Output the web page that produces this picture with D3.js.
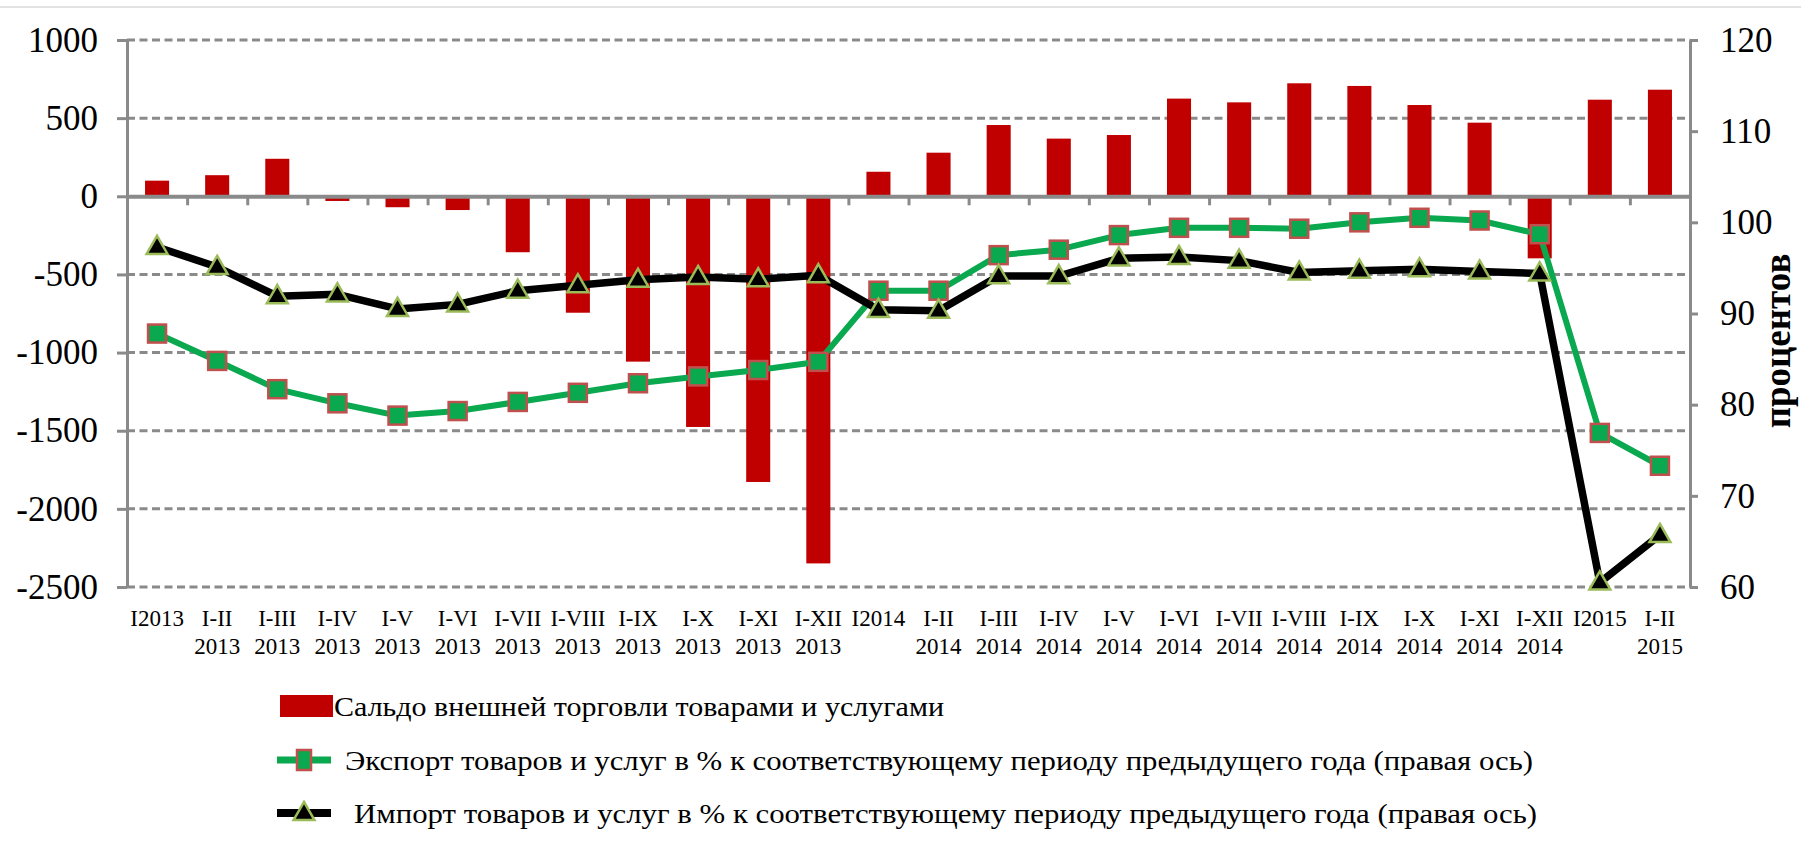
<!DOCTYPE html>
<html>
<head>
<meta charset="utf-8">
<script src="https://cdn.jsdelivr.net/npm/d3@7"></script>
<style>
  body { margin: 0; background: #fff; }
  svg { display: block; font-family: "Liberation Serif", "Times New Roman", serif; }
</style>
</head>
<body>
<svg id="chart" width="1801" height="849"></svg>
<script>
// periods (first row of x labels) and years (second row)
var periods = ["I2013", "I-II", "I-III", "I-IV", "I-V", "I-VI", "I-VII", "I-VIII", "I-IX", "I-X", "I-XI", "I-XII",
    "I2014", "I-II", "I-III", "I-IV", "I-V", "I-VI", "I-VII", "I-VIII", "I-IX", "I-X", "I-XI", "I-XII",
    "I2015", "I-II"];
var years = ["", "2013", "2013", "2013", "2013", "2013", "2013", "2013", "2013", "2013", "2013", "2013",
    "", "2014", "2014", "2014", "2014", "2014", "2014", "2014", "2014", "2014", "2014", "2014",
    "", "2015"];

// saldo of foreign trade (left axis)
var balance = [100, 135, 240, -30, -70, -88, -358, -745, -1058, -1476, -1828, -2349,
    157, 279, 456, 369, 392, 625, 601, 723, 706, 584, 471, -397,
    618, 682];
// export, % to same period of previous year (right axis)
var exportPct = [87.8, 84.8, 81.7, 80.15, 78.8, 79.3, 80.3, 81.3, 82.35, 83.1, 83.8, 84.7,
    92.5, 92.5, 96.4, 97.0, 98.6, 99.4, 99.4, 99.3, 100.0, 100.5, 100.2, 98.7,
    76.9, 73.3];
// import, % to same period of previous year (right axis)
var importPct = [97.3, 95.1, 91.9, 92.1, 90.5, 91.0, 92.5, 93.1, 93.7, 94.0, 93.75, 94.2,
    90.4, 90.3, 94.1, 94.1, 96.05, 96.2, 95.8, 94.5, 94.7, 94.85, 94.6, 94.4,
    60.5, 65.7];

var leftTicks = [-2500, -2000, -1500, -1000, -500, 0, 500, 1000];
var rightTicks = [60, 70, 80, 90, 100, 110, 120];
var legendNames = ["Сальдо внешней торговли товарами и услугами",
    "Экспорт товаров и услуг в % к соответствующему периоду предыдущего года (правая ось)",
    "Импорт товаров и услуг в % к соответствующему периоду предыдущего года (правая ось)"];
var axisTitle = "процентов";

var svg = d3.select("#chart");
// note: "top" is taken by window.top, so plot* names
var plotLeft = 127, plotRight = 1690, plotTop = 40, plotBottom = 587;
var gray = "#8a8a8a";
var plain = function (d) { return String(d); }; // "-2500", not "−2,500"

var idx = d3.range(periods.length);
var x = d3.scaleBand().domain(idx).range([plotLeft, plotRight]).paddingInner(0.6).paddingOuter(0.3);
var xEdge = d3.scaleLinear().domain([0, periods.length]).range([plotLeft, plotRight]);
var yL = d3.scaleLinear().domain([-2500, 1000]).range([plotBottom, plotTop]);
var yR = d3.scaleLinear().domain([60, 120]).range([plotBottom, plotTop]);
var cx = function (i) { return x(i) + x.bandwidth() / 2; };

// thin frame line at the very top
svg.append("line").attr("x1", 0).attr("x2", 1801).attr("y1", 7).attr("y2", 7)
    .style("stroke", "#e2e2e2").style("stroke-width", 2);

// dashed gridlines
svg.append("g").selectAll("line")
    .data(leftTicks.filter(function (d) { return d !== 0; }))
    .enter().append("line")
    .attr("x1", plotLeft).attr("x2", plotRight)
    .attr("y1", function (d) { return yL(d); }).attr("y2", function (d) { return yL(d); })
    .style("stroke", gray).style("stroke-width", 3).style("stroke-dasharray", "8,4.5");

// bars
svg.append("g").selectAll("rect")
    .data(idx).enter().append("rect")
    .attr("x", function (i) { return x(i); })
    .attr("width", x.bandwidth())
    .attr("y", function (i) { return yL(Math.max(0, balance[i])); })
    .attr("height", function (i) { return Math.abs(yL(balance[i]) - yL(0)); })
    .style("fill", "#c00000");

// x axis on zero line, ticks at band edges
var xAxis = svg.append("g").attr("transform", "translate(0," + yL(0) + ")")
    .call(d3.axisBottom(xEdge).tickValues(d3.range(1, periods.length)).tickFormat("").tickSize(9).tickSizeOuter(0));
xAxis.select(".domain").style("stroke", gray).style("stroke-width", 4);
xAxis.selectAll(".tick line").style("stroke", gray).style("stroke-width", 3);

// left axis
var axL = svg.append("g").attr("transform", "translate(" + plotLeft + ",0)")
    .call(d3.axisLeft(yL).tickValues(leftTicks).tickFormat(plain).tickSize(10).tickSizeOuter(0).tickPadding(19));
axL.select(".domain").style("stroke", gray).style("stroke-width", 3);
axL.selectAll(".tick line").style("stroke", gray).style("stroke-width", 3);
axL.selectAll(".tick text").style("font-size", "35px").style("fill", "#000")
    .style("font-family", "'Liberation Serif', 'Times New Roman', serif");

// right axis
var axR = svg.append("g").attr("transform", "translate(" + plotRight + ",0)")
    .call(d3.axisRight(yR).tickValues(rightTicks).tickFormat(plain).tickSize(8).tickSizeOuter(0).tickPadding(22));
axR.select(".domain").style("stroke", gray).style("stroke-width", 3);
axR.selectAll(".tick line").style("stroke", gray).style("stroke-width", 3);
axR.selectAll(".tick text").style("font-size", "35px").style("fill", "#000")
    .style("font-family", "'Liberation Serif', 'Times New Roman', serif");

svg.append("text")
    .attr("transform", "translate(1790,341) rotate(-90)")
    .attr("text-anchor", "middle")
    .style("font-size", "37px").style("font-weight", "bold")
    .text(axisTitle);

// x labels
var xl = svg.append("g").style("font-size", "23px").attr("text-anchor", "middle");
xl.selectAll("text.p").data(idx).enter().append("text").attr("class", "p")
    .attr("x", cx).attr("y", 626).text(function (i) { return periods[i]; });
xl.selectAll("text.yr").data(idx).enter().append("text").attr("class", "yr")
    .attr("x", cx).attr("y", 654).text(function (i) { return years[i]; });

// lines
var line = function (vals) {
    return d3.line().x(function (i) { return cx(i); }).y(function (i) { return yR(vals[i]); })(idx);
};
var tri = d3.symbol().type(d3.symbolTriangle).size(190);

svg.append("path").attr("d", line(exportPct))
    .style("fill", "none").style("stroke", "#0aa84f").style("stroke-width", 6).style("stroke-linejoin", "round");
svg.append("g").selectAll("rect").data(idx).enter().append("rect")
    .attr("x", function (i) { return cx(i) - 9; }).attr("y", function (i) { return yR(exportPct[i]) - 9; })
    .attr("width", 18).attr("height", 18)
    .style("fill", "#0aa84f").style("stroke", "#c0504d").style("stroke-width", 2.5);

svg.append("path").attr("d", line(importPct))
    .style("fill", "none").style("stroke", "#000").style("stroke-width", 7.5).style("stroke-linejoin", "round");
svg.append("g").selectAll("path").data(idx).enter().append("path")
    .attr("d", tri)
    .attr("transform", function (i) { return "translate(" + cx(i) + "," + (yR(importPct[i]) + 1) + ")"; })
    .style("fill", "#000").style("stroke", "#9bbb59").style("stroke-width", 2.5);

// legend
var lg = svg.append("g");
var rowY = [706, 760, 813];
var textX = [334, 345, 354];
var textW = [610, 1188, 1183];
lg.append("rect").attr("x", 280).attr("y", rowY[0] - 11).attr("width", 53).attr("height", 22).style("fill", "#c00000");
lg.append("line").attr("x1", 277).attr("x2", 331).attr("y1", rowY[1]).attr("y2", rowY[1])
    .style("stroke", "#0aa84f").style("stroke-width", 7);
lg.append("rect").attr("x", 297).attr("y", rowY[1] - 10).attr("width", 14).attr("height", 20)
    .style("fill", "#0aa84f").style("stroke", "#c0504d").style("stroke-width", 2.5);
lg.append("line").attr("x1", 277).attr("x2", 331).attr("y1", rowY[2]).attr("y2", rowY[2])
    .style("stroke", "#000").style("stroke-width", 8);
lg.append("path").attr("d", tri).attr("transform", "translate(304," + (rowY[2] + 1) + ")")
    .style("fill", "#000").style("stroke", "#9bbb59").style("stroke-width", 2.5);
lg.selectAll("text").data(legendNames).enter().append("text")
    .attr("x", function (d, i) { return textX[i]; })
    .attr("y", function (d, i) { return rowY[i] + 10; })
    .attr("textLength", function (d, i) { return textW[i]; })
    .attr("lengthAdjust", "spacingAndGlyphs")
    .style("font-size", "28px")
    .text(function (d) { return d; });
</script>
</body>
</html>
